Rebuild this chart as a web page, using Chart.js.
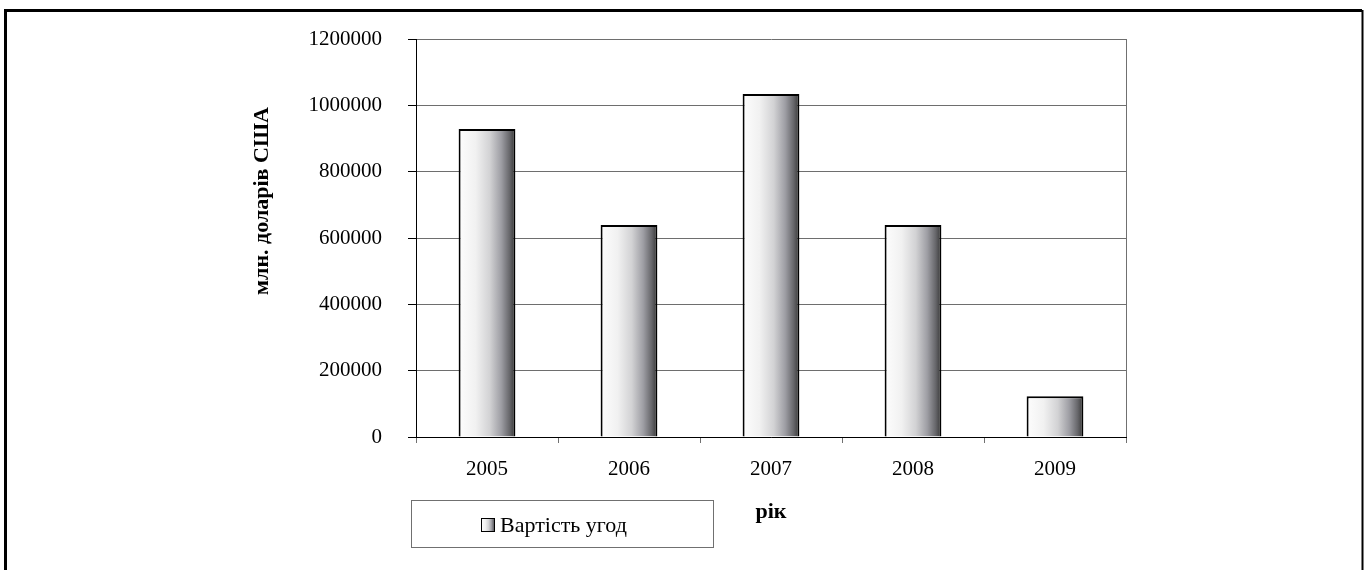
<!DOCTYPE html>
<html>
<head>
<meta charset="utf-8">
<script src="https://cdn.jsdelivr.net/npm/chart.js@4/dist/chart.umd.min.js"></script>
<style>
  body { margin: 0; background: #fff; }
  canvas { display: block; }
</style>
</head>
<body>
<canvas id="grafik" width="1364" height="570"></canvas>
<script>
const ROKY = ["2005", "2006", "2007", "2008", "2009"];
const VARTIST = [929000, 639000, 1034000, 639000, 123000];
const Y_TICKS = [0, 200000, 400000, 600000, 800000, 1000000, 1200000];
const LEGENDA = "Вартість угод";
const Y_TITLE = "млн. доларів США";
const X_TITLE = "рік";

const SHRIFT = "'Liberation Serif', 'Times New Roman', serif";

function gradient(ctx, x0, x1) {
    let g = ctx.createLinearGradient(x0, 0, x1, 0);
    g.addColorStop(0, "#fdfdfd");
    g.addColorStop(0.3, "#f1f1f1");
    g.addColorStop(0.55, "#d2d2d4");
    g.addColorStop(0.75, "#9e9ea4");
    g.addColorStop(0.9, "#66666a");
    g.addColorStop(1, "#353535");
    return g;
}

// hradijent na kozhnomu stovpchyku
const zalyvka = {
    id: "zalyvka",
    beforeDatasetsDraw(chart) {
        const meta = chart.getDatasetMeta(0);
        for (let el of meta.data) {
            if (!isFinite(el.x) || !isFinite(el.width)) continue;
            el.options.backgroundColor = gradient(chart.ctx, el.x - el.width / 2, el.x + el.width / 2);
        }
    }
};

// ramka, legenda, nazvy osej
const ramka = {
    id: "ramka",
    afterDraw(chart) {
        const ctx = chart.ctx;
        const area = chart.chartArea;
        ctx.save();

        // prava mezha oblasti pobudovy
        ctx.strokeStyle = "#707070";
        ctx.lineWidth = 1;
        ctx.beginPath();
        ctx.moveTo(area.right + 0.5, area.top);
        ctx.lineTo(area.right + 0.5, area.bottom);
        ctx.stroke();

        // zovnishnja ramka
        ctx.strokeStyle = "#000";
        ctx.lineWidth = 3;
        ctx.beginPath();
        ctx.moveTo(5.5, 590);
        ctx.lineTo(5.5, 10.5);
        ctx.lineTo(1362, 10.5);
        ctx.stroke();
        ctx.lineWidth = 2;
        ctx.beginPath();
        ctx.moveTo(1362.5, 10);
        ctx.lineTo(1362.5, 590);
        ctx.stroke();

        // legenda
        ctx.strokeStyle = "#707070";
        ctx.lineWidth = 1;
        ctx.strokeRect(411.5, 500.5, 302, 47);
        ctx.fillStyle = gradient(ctx, 481, 495);
        ctx.fillRect(481.5, 518.5, 13, 13);
        ctx.strokeStyle = "#000";
        ctx.strokeRect(481.5, 518.5, 13, 13);
        ctx.fillStyle = "#000";
        ctx.font = "22px " + SHRIFT;
        ctx.textAlign = "left";
        ctx.textBaseline = "alphabetic";
        ctx.fillText(LEGENDA, 500, 532);

        // nazvy osej
        ctx.font = "bold 22px " + SHRIFT;
        ctx.textAlign = "center";
        ctx.fillText(X_TITLE, (area.left + area.right) / 2, 518);
        ctx.translate(268, 201);
        ctx.rotate(-Math.PI / 2);
        ctx.fillText(Y_TITLE, 0, 0);
        ctx.restore();
    }
};

const ctx = document.getElementById("grafik").getContext("2d");
const chart = new Chart(ctx, {
    type: "bar",
    data: {
        labels: ROKY,
        datasets: [{
            label: LEGENDA,
            data: VARTIST,
            backgroundColor: (c) => "#dddddd",
            borderColor: "#000",
            borderWidth: 2,
            categoryPercentage: 0.8,
            barPercentage: 0.5
        }]
    },
    options: {
        responsive: false,
        devicePixelRatio: 1,
        animation: false,
        layout: { padding: { top: 39, right: 238, bottom: 0, left: 0 } },
        plugins: {
            legend: { display: false },
            tooltip: { enabled: false }
        },
        scales: {
            x: {
                afterFit(scale) { scale.height = 133; },
                grid: {
                    drawOnChartArea: false,
                    tickLength: 6,
                    tickColor: "#707070",
                    offset: true
                },
                border: { color: "#000", width: 1 },
                ticks: {
                    color: "#000",
                    padding: 14,
                    font: { family: SHRIFT, size: 21 }
                }
            },
            y: {
                min: 0,
                max: 1200000,
                afterFit(scale) { scale.width = 416; },
                afterBuildTicks(scale) { scale.ticks = Y_TICKS.map(v => ({ value: v })); },
                grid: {
                    color: "#6e6e6e",
                    lineWidth: 1,
                    tickLength: 8,
                    tickColor: "#000"
                },
                border: { color: "#000", width: 1 },
                ticks: {
                    color: "#000",
                    padding: 26,
                    callback: (v) => String(v),
                    font: { family: SHRIFT, size: 21 }
                }
            }
        }
    },
    plugins: [zalyvka, ramka]
});
</script>
</body>
</html>
